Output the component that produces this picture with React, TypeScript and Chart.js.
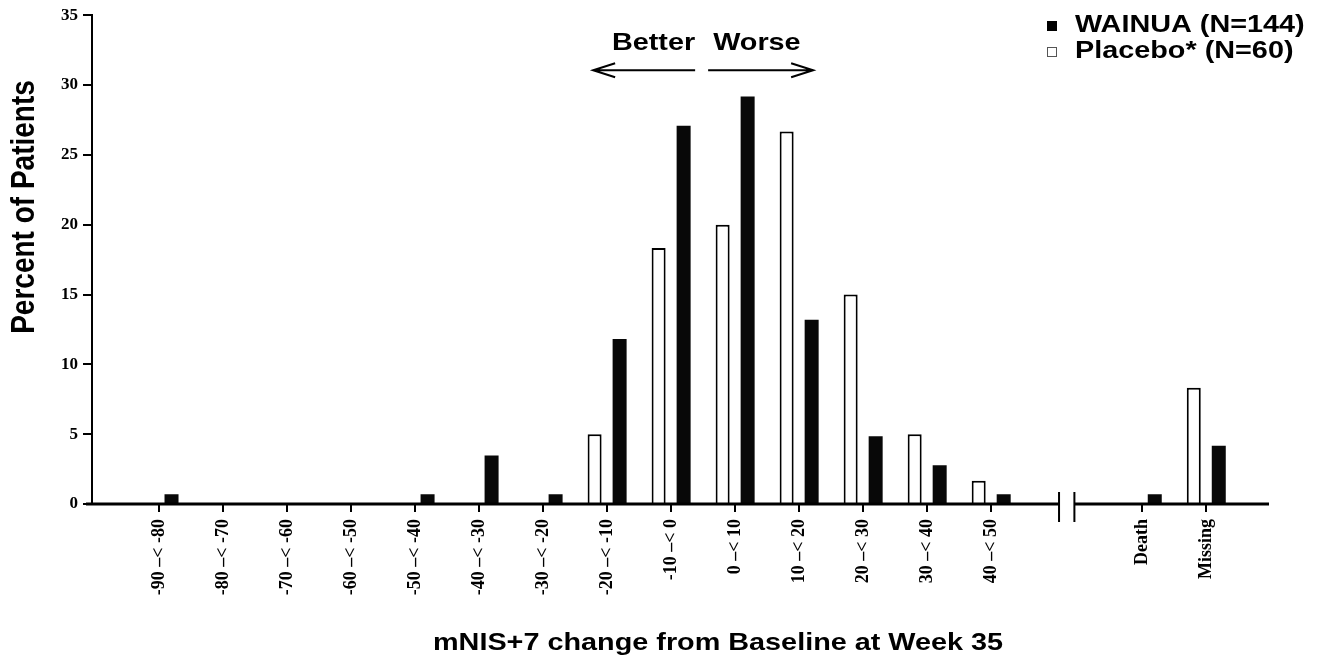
import React, { useEffect, useRef } from 'react';
import { Chart, registerables } from 'chart.js';

Chart.register(...registerables);

// ---- data ----
const binLabels = [
  '-90 –< -80', '-80 –< -70', '-70 –< -60', '-60 –< -50', '-50 –< -40',
  '-40 –< -30', '-30 –< -20', '-20 –< -10', '-10 –< 0', '0 –< 10',
  '10 –< 20', '20 –< 30', '30 –< 40', '40 –< 50',
];
const outcomeLabels = ['Death', 'Missing'];
const wainuaValues = [0.69, 0, 0, 0, 0.69, 3.47, 0.69, 11.81, 27.08, 29.17, 13.19, 4.86, 2.78, 0.69, 0.69, 4.17];
const placeboValues = [0, 0, 0, 0, 0, 0, 0, 5.0, 18.33, 20.0, 26.67, 15.0, 5.0, 1.67, 0, 8.33];
const yTickValues = [0, 5, 10, 15, 20, 25, 30, 35];
const legendLabels = ['WAINUA (N=144)', 'Placebo* (N=60)'];
const xTitle = 'mNIS+7 change from Baseline at Week 35';
const yTitle = 'Percent of Patients';
const betterText = 'Better';
const worseText = 'Worse';

// ---- layout helpers ----
const OUTCOME_GAP = 1.36;
const categories = [...binLabels, ...outcomeLabels];
const xPositions = categories.map((_, i) => (i < binLabels.length ? i : i + OUTCOME_GAP));
const BREAK_A = binLabels.length + 0.06;
const BREAK_B = binLabels.length + 0.3;
const X_MIN = -1.047;
const X_MAX = xPositions[xPositions.length - 1] + 0.98;

const SANS = "'Liberation Sans', Arial, Helvetica, sans-serif";
const SERIF = "'Liberation Serif', 'Times New Roman', serif";
const STRETCH = 1.2;

function stretchedText(ctx: CanvasRenderingContext2D, text: string, x: number, y: number, align: CanvasTextAlign) {
  ctx.save();
  ctx.translate(x, y);
  ctx.scale(STRETCH, 1);
  ctx.textAlign = align;
  ctx.fillText(text, 0, 0);
  ctx.restore();
}

const decorations = {
  id: 'decorations',
  afterDraw(chart: any) {
    const ctx: CanvasRenderingContext2D = chart.ctx;
    const { left, right, top, bottom } = chart.chartArea;
    const xs = chart.scales.x;
    const b1 = xs.getPixelForValue(BREAK_A);
    const b2 = xs.getPixelForValue(BREAK_B);
    ctx.save();
    ctx.strokeStyle = '#000';
    ctx.fillStyle = '#000';
    // x axis with break
    ctx.lineWidth = 3;
    ctx.beginPath();
    ctx.moveTo(left - 6, bottom);
    ctx.lineTo(b1, bottom);
    ctx.moveTo(b2, bottom);
    ctx.lineTo(right, bottom);
    ctx.stroke();
    ctx.lineWidth = 2;
    ctx.beginPath();
    ctx.moveTo(b1, bottom - 12);
    ctx.lineTo(b1, bottom + 18);
    ctx.moveTo(b2, bottom - 12);
    ctx.lineTo(b2, bottom + 18);
    ctx.stroke();

    // Better / Worse arrows
    const mid = xs.getPixelForValue(8.5);
    const ay = top + 55;
    ctx.lineWidth = 2;
    ctx.beginPath();
    ctx.moveTo(mid - 110, ay);
    ctx.lineTo(mid - 8, ay);
    ctx.moveTo(mid - 88, ay - 7);
    ctx.lineTo(mid - 110, ay);
    ctx.lineTo(mid - 88, ay + 7);
    ctx.moveTo(mid + 5, ay);
    ctx.lineTo(mid + 110, ay);
    ctx.moveTo(mid + 88, ay - 7);
    ctx.lineTo(mid + 110, ay);
    ctx.lineTo(mid + 88, ay + 7);
    ctx.stroke();
    ctx.font = `bold 24px ${SANS}`;
    ctx.textBaseline = 'alphabetic';
    stretchedText(ctx, betterText, mid - 8, top + 35, 'right');
    stretchedText(ctx, worseText, mid + 10, top + 35, 'left');

    // legend
    const lx = chart.width - 274;
    ctx.fillStyle = '#000';
    ctx.fillRect(lx, 21, 10, 10);
    ctx.fillStyle = '#fff';
    ctx.fillRect(lx, 47, 10, 10);
    ctx.strokeStyle = '#555';
    ctx.lineWidth = 1;
    ctx.strokeRect(lx + 0.5, 47.5, 9, 9);
    ctx.fillStyle = '#000';
    ctx.font = `bold 24px ${SANS}`;
    stretchedText(ctx, legendLabels[0], lx + 28, 32, 'left');
    stretchedText(ctx, legendLabels[1], lx + 28, 58, 'left');

    // x title
    stretchedText(ctx, xTitle, 433, 650, 'left');

    // y title
    ctx.save();
    ctx.translate(25, 207);
    ctx.scale(STRETCH, 1);
    ctx.rotate(-Math.PI / 2);
    ctx.font = `bold 28px ${SANS}`;
    ctx.textAlign = 'center';
    ctx.textBaseline = 'middle';
    ctx.fillText(yTitle, 0, 0);
    ctx.restore();

    ctx.restore();
  },
};

export default function App() {
  const canvasRef = useRef<HTMLCanvasElement | null>(null);

  useEffect(() => {
    const canvas = canvasRef.current;
    if (!canvas) return;
    const chart = new Chart(canvas, {
      type: 'bar',
      data: {
        datasets: [
          {
            label: legendLabels[1],
            data: placeboValues.map((v, i) => ({ x: xPositions[i], y: v })),
            backgroundColor: '#ffffff',
            borderColor: '#000000',
            borderWidth: 2,
            categoryPercentage: 0.78125,
            barPercentage: 0.56,
          },
          {
            label: legendLabels[0],
            data: wainuaValues.map((v, i) => ({ x: xPositions[i], y: v })),
            backgroundColor: '#080808',
            borderWidth: 0,
            categoryPercentage: 0.78125,
            barPercentage: 0.56,
          },
        ],
      },
      options: {
        responsive: false,
        animation: false,
        events: [],
        layout: { padding: { top: 15, right: 52, bottom: 0, left: 0 } },
        plugins: {
          legend: { display: false },
          tooltip: { enabled: false },
          title: { display: false },
        },
        scales: {
          x: {
            type: 'linear',
            min: X_MIN,
            max: X_MAX,
            offset: false,
            afterBuildTicks: (scale: any) => {
              scale.ticks = xPositions.map((v) => ({ value: v }));
            },
            afterFit: (scale: any) => {
              scale.height = 153;
            },
            grid: {
              display: true,
              offset: false,
              drawOnChartArea: false,
              drawTicks: true,
              tickLength: 8,
              lineWidth: 2,
              color: '#000',
            },
            border: { display: false },
            ticks: {
              autoSkip: false,
              minRotation: 90,
              maxRotation: 90,
              padding: 7,
              color: '#000',
              font: { family: SERIF, size: 18, weight: 'bold' },
              callback: (_v: any, index: number) => categories[index],
            },
          },
          y: {
            type: 'linear',
            min: 0,
            max: 35,
            afterBuildTicks: (scale: any) => {
              scale.ticks = yTickValues.map((v) => ({ value: v }));
            },
            afterFit: (scale: any) => {
              scale.width = 92;
            },
            grid: {
              display: true,
              drawOnChartArea: false,
              drawTicks: true,
              tickLength: 9,
              lineWidth: 2,
              color: '#000',
            },
            border: { display: true, color: '#000', width: 2 },
            ticks: {
              padding: 5,
              color: '#000',
              font: { family: SERIF, size: 17, weight: 'bold' },
            },
          },
        },
      },
      plugins: [decorations],
    } as any);
    return () => chart.destroy();
  }, []);

  return (
    <div style={{ position: 'absolute', left: 0, top: 0, width: 1321, height: 657, background: '#fff' }}>
      <canvas ref={canvasRef} width={1321} height={657} />
    </div>
  );
}
